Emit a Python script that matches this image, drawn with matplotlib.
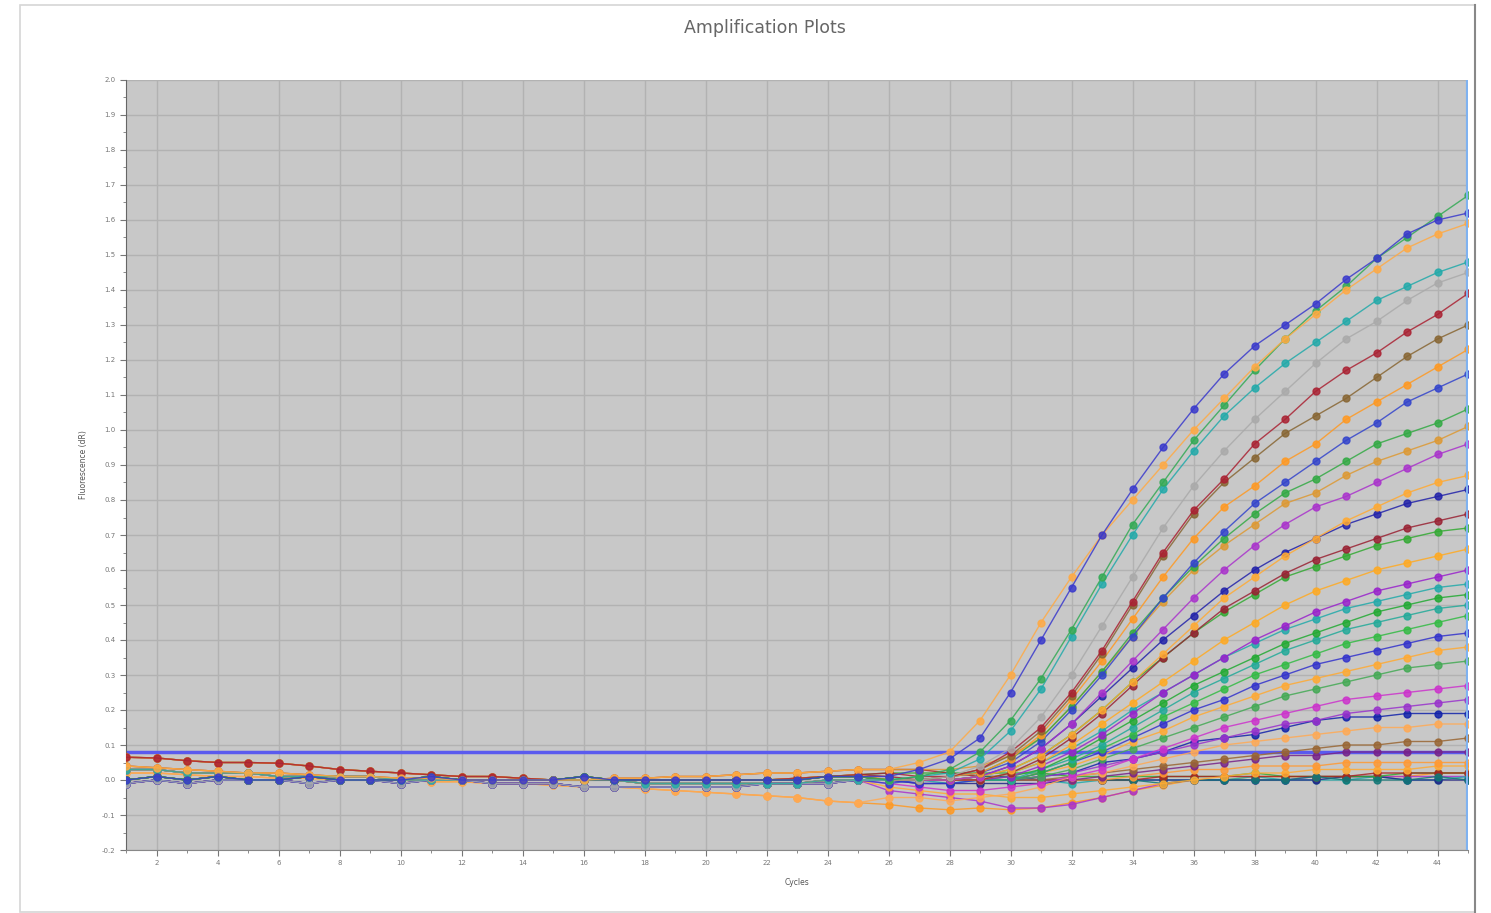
import matplotlib
matplotlib.use("Agg")
import matplotlib.pyplot as plt
from matplotlib.ticker import MultipleLocator, FormatStrFormatter
from matplotlib.patches import Rectangle
from matplotlib.lines import Line2D

# cycles 1..45
cycles = list(range(1, 46))
threshold = 0.08

# baseline segments, cycles 1-25
base_flat = [0.00, 0.01, 0.00, 0.01, 0.00, 0.00, 0.01, 0.00, 0.00, 0.00, 0.01, 0.00, 0.00,
             0.00, 0.00, 0.01, 0.00, 0.00, 0.00, 0.00, 0.00, 0.00, 0.00, 0.01, 0.01]
base_low = [0.03, 0.03, 0.02, 0.02, 0.02, 0.01, 0.01, 0.01, 0.01, 0.00, 0.00, 0.00, 0.00,
            0.00, 0.00, 0.00, 0.00, -0.01, -0.01, -0.01, -0.01, -0.01, -0.01, 0.00, 0.00]
base_high = [0.065, 0.063, 0.055, 0.05, 0.05, 0.048, 0.04, 0.03, 0.025, 0.02, 0.015, 0.01, 0.01,
             0.005, 0.00, 0.00, 0.00, 0.00, 0.00, 0.00, 0.00, 0.00, 0.005, 0.01, 0.015]
base_neg = [-0.01, 0.00, -0.01, 0.00, 0.00, 0.00, -0.01, 0.00, 0.00, -0.01, 0.00, 0.00, -0.01,
            -0.01, -0.01, -0.02, -0.02, -0.02, -0.02, -0.02, -0.02, -0.01, -0.01, -0.01, 0.00]
base_drift = [0.02, 0.02, 0.015, 0.01, 0.01, 0.005, 0.005, 0.00, 0.00, 0.00, -0.005, -0.005, -0.01,
              -0.01, -0.015, -0.02, -0.02, -0.025, -0.03, -0.035, -0.04, -0.045, -0.05, -0.06, -0.065]
base_up = [0.04, 0.035, 0.03, 0.025, 0.02, 0.02, 0.015, 0.01, 0.01, 0.005, 0.005, 0.00, 0.00,
           0.00, 0.00, 0.00, 0.005, 0.005, 0.01, 0.01, 0.015, 0.02, 0.02, 0.025, 0.03]

# cycles 26-45 for each well
r01 = [0.01, 0.03, 0.06, 0.12, 0.25, 0.40, 0.55, 0.70, 0.83, 0.95, 1.06, 1.16, 1.24, 1.30, 1.36, 1.43, 1.49, 1.56, 1.60, 1.62]
r02 = [0.03, 0.05, 0.08, 0.17, 0.30, 0.45, 0.58, 0.70, 0.80, 0.90, 1.00, 1.09, 1.18, 1.26, 1.33, 1.40, 1.46, 1.52, 1.56, 1.59]
r03 = [0.00, 0.01, 0.03, 0.08, 0.17, 0.29, 0.43, 0.58, 0.73, 0.85, 0.97, 1.07, 1.17, 1.26, 1.34, 1.41, 1.49, 1.55, 1.61, 1.67]
r04 = [0.00, 0.01, 0.02, 0.06, 0.14, 0.26, 0.41, 0.56, 0.70, 0.83, 0.94, 1.04, 1.12, 1.19, 1.25, 1.31, 1.37, 1.41, 1.45, 1.48]
r05 = [0.00, 0.00, 0.01, 0.04, 0.09, 0.18, 0.30, 0.44, 0.58, 0.72, 0.84, 0.94, 1.03, 1.11, 1.19, 1.26, 1.31, 1.37, 1.42, 1.45]
r06 = [0.02, 0.01, 0.01, 0.03, 0.08, 0.15, 0.25, 0.37, 0.51, 0.65, 0.77, 0.86, 0.96, 1.03, 1.11, 1.17, 1.22, 1.28, 1.33, 1.39]
r07 = [0.00, 0.00, 0.01, 0.03, 0.07, 0.14, 0.24, 0.36, 0.50, 0.64, 0.76, 0.85, 0.92, 0.99, 1.04, 1.09, 1.15, 1.21, 1.26, 1.30]
r08 = [0.00, 0.00, 0.01, 0.02, 0.06, 0.13, 0.23, 0.34, 0.46, 0.58, 0.69, 0.78, 0.84, 0.91, 0.96, 1.03, 1.08, 1.13, 1.18, 1.23]
r09 = [-0.01, 0.00, 0.01, 0.02, 0.05, 0.11, 0.20, 0.30, 0.41, 0.52, 0.62, 0.71, 0.79, 0.85, 0.91, 0.97, 1.02, 1.08, 1.12, 1.16]
r10 = [0.00, 0.00, 0.01, 0.02, 0.06, 0.12, 0.21, 0.31, 0.42, 0.52, 0.61, 0.69, 0.76, 0.82, 0.86, 0.91, 0.96, 0.99, 1.02, 1.06]
r11 = [0.03, 0.03, 0.03, 0.04, 0.07, 0.12, 0.21, 0.31, 0.41, 0.51, 0.60, 0.67, 0.73, 0.79, 0.82, 0.87, 0.91, 0.94, 0.97, 1.01]
r12 = [0.00, 0.00, 0.00, 0.01, 0.04, 0.09, 0.16, 0.25, 0.34, 0.43, 0.52, 0.60, 0.67, 0.73, 0.78, 0.81, 0.85, 0.89, 0.93, 0.96]
r13 = [0.00, 0.00, 0.00, 0.01, 0.03, 0.07, 0.13, 0.20, 0.28, 0.36, 0.44, 0.52, 0.58, 0.64, 0.69, 0.74, 0.78, 0.82, 0.85, 0.87]
r14 = [0.00, 0.00, 0.00, 0.01, 0.04, 0.09, 0.16, 0.24, 0.32, 0.40, 0.47, 0.54, 0.60, 0.65, 0.69, 0.73, 0.76, 0.79, 0.81, 0.83]
r15 = [0.01, 0.00, 0.00, 0.00, 0.02, 0.06, 0.12, 0.19, 0.27, 0.35, 0.42, 0.49, 0.54, 0.59, 0.63, 0.66, 0.69, 0.72, 0.74, 0.76]
r16 = [0.00, 0.00, 0.00, 0.00, 0.02, 0.05, 0.10, 0.16, 0.22, 0.28, 0.34, 0.40, 0.45, 0.50, 0.54, 0.57, 0.60, 0.62, 0.64, 0.66]
r17 = [0.00, 0.00, 0.00, 0.00, 0.01, 0.04, 0.08, 0.13, 0.19, 0.25, 0.30, 0.35, 0.40, 0.44, 0.48, 0.51, 0.54, 0.56, 0.58, 0.60]
r18 = [0.00, 0.00, 0.00, 0.00, 0.01, 0.03, 0.07, 0.12, 0.17, 0.22, 0.27, 0.31, 0.35, 0.39, 0.42, 0.45, 0.48, 0.50, 0.52, 0.53]
r19 = [0.00, 0.00, 0.00, 0.00, 0.00, 0.03, 0.06, 0.10, 0.15, 0.20, 0.25, 0.29, 0.33, 0.37, 0.40, 0.43, 0.45, 0.47, 0.49, 0.50]
r20 = [0.00, 0.00, 0.00, 0.00, 0.00, 0.02, 0.05, 0.09, 0.13, 0.18, 0.22, 0.26, 0.30, 0.33, 0.36, 0.39, 0.41, 0.43, 0.45, 0.47]
r21 = [0.00, -0.01, -0.01, 0.00, 0.00, 0.02, 0.05, 0.08, 0.12, 0.16, 0.20, 0.23, 0.27, 0.30, 0.33, 0.35, 0.37, 0.39, 0.41, 0.42]
r22 = [0.00, 0.00, 0.00, 0.00, 0.00, 0.01, 0.03, 0.06, 0.09, 0.12, 0.15, 0.18, 0.21, 0.24, 0.26, 0.28, 0.30, 0.32, 0.33, 0.34]
r23 = [-0.01, -0.02, -0.03, -0.03, -0.02, -0.01, 0.01, 0.03, 0.06, 0.09, 0.12, 0.15, 0.17, 0.19, 0.21, 0.23, 0.24, 0.25, 0.26, 0.27]
r24 = [0.00, 0.00, 0.00, 0.00, 0.00, 0.01, 0.02, 0.05, 0.06, 0.08, 0.11, 0.12, 0.13, 0.15, 0.17, 0.18, 0.18, 0.19, 0.19, 0.19]
r25 = [-0.05, -0.05, -0.06, -0.05, -0.04, -0.02, 0.01, 0.02, 0.04, 0.06, 0.08, 0.10, 0.11, 0.12, 0.13, 0.14, 0.15, 0.15, 0.16, 0.16]
r26 = [0.00, 0.00, 0.00, 0.00, 0.00, 0.00, 0.00, 0.01, 0.02, 0.03, 0.04, 0.05, 0.06, 0.07, 0.07, 0.08, 0.08, 0.08, 0.08, 0.08]
r27 = [0.00, 0.00, 0.00, 0.00, 0.00, 0.00, 0.00, 0.00, 0.01, 0.02, 0.03, 0.03, 0.04, 0.04, 0.04, 0.05, 0.05, 0.05, 0.05, 0.05]
r28 = [-0.07, -0.08, -0.085, -0.08, -0.085, -0.08, -0.065, -0.05, -0.03, -0.015, 0.00, 0.00, 0.01, 0.01, 0.01, 0.01, 0.01, 0.01, 0.02, 0.02]
r29 = [-0.03, -0.04, -0.05, -0.06, -0.08, -0.08, -0.07, -0.05, -0.03, -0.01, 0.00, 0.00, 0.00, 0.00, 0.01, 0.01, 0.01, 0.01, 0.01, 0.01]
r30 = [0.00, 0.00, -0.01, 0.00, 0.00, 0.00, -0.01, 0.00, 0.00, 0.00, 0.00, 0.00, 0.01, 0.00, 0.00, 0.00, 0.01, 0.00, 0.00, 0.01]
r31 = [0.00, -0.01, -0.01, -0.01, -0.01, -0.01, 0.00, 0.00, 0.00, 0.00, 0.00, 0.00, 0.00, 0.00, 0.00, 0.01, 0.01, 0.00, 0.00, 0.00]
r32 = [0.02, 0.02, 0.02, 0.02, 0.02, 0.02, 0.01, 0.01, 0.01, 0.01, 0.01, 0.01, 0.02, 0.01, 0.01, 0.01, 0.01, 0.02, 0.02, 0.02]
r33 = [0.03, 0.03, 0.02, 0.01, 0.01, 0.00, 0.00, 0.00, 0.00, 0.01, 0.01, 0.01, 0.01, 0.01, 0.01, 0.01, 0.02, 0.02, 0.02, 0.02]
r34 = [-0.02, -0.03, -0.04, -0.04, -0.05, -0.05, -0.04, -0.03, -0.02, -0.01, 0.00, 0.01, 0.02, 0.02, 0.03, 0.03, 0.03, 0.03, 0.04, 0.04]
r35 = [0.00, 0.00, 0.00, 0.01, 0.03, 0.07, 0.13, 0.20, 0.28, 0.35, 0.42, 0.48, 0.53, 0.58, 0.61, 0.64, 0.67, 0.69, 0.71, 0.72]
r36 = [0.00, 0.00, 0.00, 0.00, 0.02, 0.05, 0.09, 0.14, 0.20, 0.25, 0.30, 0.35, 0.39, 0.43, 0.46, 0.49, 0.51, 0.53, 0.55, 0.56]
r37 = [0.00, 0.00, 0.00, 0.00, 0.00, 0.02, 0.04, 0.07, 0.11, 0.14, 0.18, 0.21, 0.24, 0.27, 0.29, 0.31, 0.33, 0.35, 0.37, 0.38]
r38 = [0.00, 0.00, 0.00, 0.00, 0.00, 0.01, 0.02, 0.04, 0.06, 0.08, 0.10, 0.12, 0.14, 0.16, 0.17, 0.19, 0.20, 0.21, 0.22, 0.23]
r39 = [0.00, 0.00, 0.00, 0.00, 0.00, 0.00, 0.01, 0.02, 0.03, 0.04, 0.05, 0.06, 0.07, 0.08, 0.09, 0.10, 0.10, 0.11, 0.11, 0.12]
r40 = [0.00, 0.00, 0.00, 0.01, 0.01, 0.00, 0.00, 0.00, 0.00, -0.01, 0.00, 0.00, 0.00, 0.00, 0.01, 0.00, 0.00, 0.00, 0.01, 0.00]

# (baseline, amplification part, well colour)
wells = [
    (base_drift, r28, "#ff9922"), (base_neg, r29, "#aa33cc"), (base_flat, r30, "#22aaaa"),
    (base_low, r31, "#222288"), (base_high, r32, "#33aa33"), (base_up, r33, "#aa2222"),
    (base_low, r40, "#117777"), (base_neg, r34, "#ffaa33"), (base_flat, r27, "#ff9933"),
    (base_neg, r26, "#772288"), (base_flat, r39, "#996633"), (base_drift, r25, "#ffaa55"),
    (base_flat, r24, "#1122aa"), (base_neg, r38, "#9933cc"), (base_neg, r23, "#cc33cc"),
    (base_flat, r22, "#44aa55"), (base_high, r37, "#ffaa33"), (base_neg, r21, "#3333cc"),
    (base_neg, r20, "#33bb44"), (base_low, r19, "#22aa99"), (base_flat, r18, "#22aa33"),
    (base_low, r36, "#22aaaa"), (base_neg, r17, "#9922cc"), (base_low, r16, "#ffaa22"),
    (base_flat, r35, "#33aa33"), (base_high, r15, "#992233"), (base_neg, r14, "#2222aa"),
    (base_high, r13, "#ffaa33"), (base_low, r12, "#aa33cc"), (base_up, r11, "#dd9933"),
    (base_flat, r10, "#33aa44"), (base_neg, r09, "#3344cc"), (base_low, r08, "#ff9922"),
    (base_flat, r07, "#886633"), (base_high, r06, "#aa2233"), (base_neg, r05, "#aaaaaa"),
    (base_low, r04, "#22aaaa"), (base_flat, r03, "#33aa55"), (base_up, r02, "#ffaa44"),
    (base_flat, r01, "#3a3acc"),
]

fig = plt.figure(figsize=(14.91, 9.13), dpi=100)
ax = fig.add_axes([126 / 1491, 1 - 850 / 913, (1468 - 126) / 1491, (850 - 80) / 913])
ax.set_facecolor("#c8c8c8")

for base, rise, col in wells:
    ax.plot(cycles, base + rise, color=col, lw=1.0, alpha=0.85,
            marker="o", ms=5, mec=col, mfc=col, zorder=3)

ax.axhline(threshold, color="#5a5aee", lw=2.5, zorder=2.5)
ax.axvline(45, color="#7fb2f0", lw=3, zorder=4)

ax.set_xlim(1, 45)
ax.set_ylim(-0.2, 2.0)
ax.xaxis.set_major_locator(MultipleLocator(2))
ax.xaxis.set_minor_locator(MultipleLocator(1))
ax.yaxis.set_major_locator(MultipleLocator(0.1))
ax.yaxis.set_minor_locator(MultipleLocator(0.05))
ax.yaxis.set_major_formatter(FormatStrFormatter("%.1f"))
ax.tick_params(which="major", labelsize=5, colors="#777777", length=4)
ax.tick_params(which="minor", colors="#777777", length=2)
ax.grid(True, which="major", color="#b2b2b2", lw=1.0, zorder=0)
ax.set_axisbelow(True)

for s in ("top", "right"):
    ax.spines[s].set_visible(False)
ax.spines["left"].set_color("#666666")
ax.spines["bottom"].set_color("#888888")

ax.set_xlabel("Cycles", fontsize=5.5, color="#555555", labelpad=8)
ax.set_ylabel("Fluorescence (dR)", fontsize=5.5, color="#555555", labelpad=10)
fig.text(765 / 1491, 1 - 28 / 913, "Amplification Plots", ha="center", va="center",
         fontsize=12.5, color="#666666")

# outer frame of the screenshot
fig.patches.append(Rectangle((20 / 1491, 1 / 913), 1455 / 1491, 907 / 913,
                             transform=fig.transFigure, fill=False,
                             edgecolor="#d6d6d6", lw=1.2))
fig.lines.append(Line2D([1475 / 1491, 1475 / 1491], [1 / 913, 1 - 5 / 913],
                        transform=fig.transFigure, color="#888888", lw=1.5))

fig.savefig("out.png", dpi=100)
